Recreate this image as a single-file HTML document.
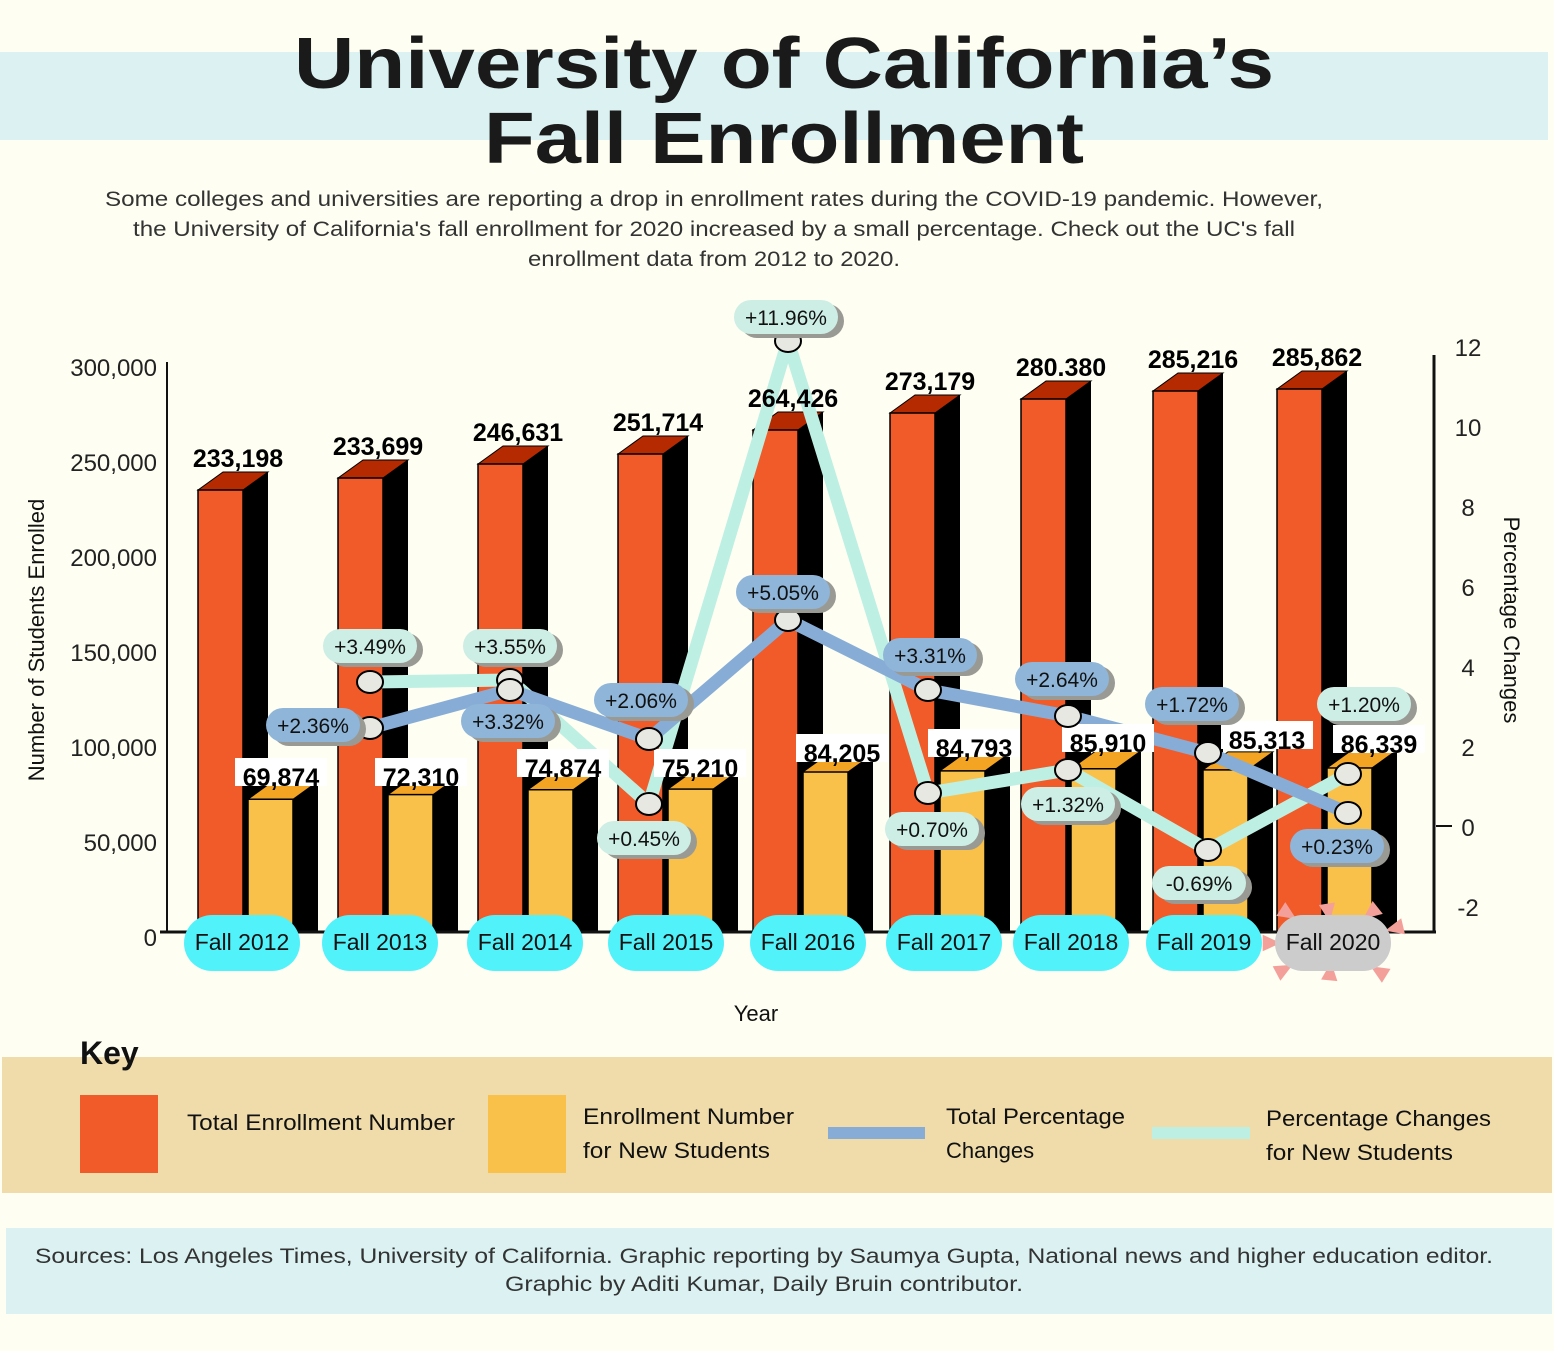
<!DOCTYPE html>
<html><head><meta charset="utf-8"><style>
html,body{margin:0;padding:0;background:#fefef2;}
svg{display:block;}
text{font-family:"Liberation Sans",sans-serif;}
</style></head><body>
<svg id="s" width="1554" height="1351" xmlns="http://www.w3.org/2000/svg">
<rect width="1554" height="1351" fill="#fefef2"/>
<rect x="0" y="52" width="1548" height="88" fill="#dcf2f2"/>
<text x="784" y="88" text-anchor="middle" font-size="72" font-weight="bold" fill="#1a1a1a" textLength="980" lengthAdjust="spacingAndGlyphs">University of California’s</text>
<text x="784" y="163" text-anchor="middle" font-size="72" font-weight="bold" fill="#1a1a1a" textLength="600" lengthAdjust="spacingAndGlyphs">Fall Enrollment</text>
<g font-size="21" fill="#333" text-anchor="middle">
<text x="714" y="206" textLength="1218" lengthAdjust="spacingAndGlyphs">Some colleges and universities are reporting a drop in enrollment rates during the COVID-19 pandemic. However,</text>
<text x="714" y="236" textLength="1162" lengthAdjust="spacingAndGlyphs">the University of California's fall enrollment for 2020 increased by a small percentage. Check out the UC's fall</text>
<text x="714" y="266" textLength="372" lengthAdjust="spacingAndGlyphs">enrollment data from 2012 to 2020.</text>
</g>
<g id="chart"></g>
<rect x="2" y="1057" width="1550" height="136" fill="#f0dcaa"/>
<text x="80" y="1064" font-size="32" font-weight="bold" fill="#111">Key</text>
<rect x="80" y="1095" width="78" height="78" fill="#f15a29"/>
<text x="187" y="1130" font-size="22" fill="#111" textLength="268" lengthAdjust="spacingAndGlyphs">Total Enrollment Number</text>
<rect x="488" y="1095" width="78" height="78" fill="#f9c04a"/>
<text x="583" y="1124" font-size="22" fill="#111" textLength="211" lengthAdjust="spacingAndGlyphs">Enrollment Number</text>
<text x="583" y="1158" font-size="22" fill="#111" textLength="187" lengthAdjust="spacingAndGlyphs">for New Students</text>
<line x1="828" y1="1133" x2="925" y2="1133" stroke="#87add6" stroke-width="12"/>
<text x="946" y="1124" font-size="22" fill="#111" textLength="179" lengthAdjust="spacingAndGlyphs">Total Percentage</text>
<text x="946" y="1158" font-size="22" fill="#111">Changes</text>
<line x1="1152" y1="1133" x2="1250" y2="1133" stroke="#bdf0e3" stroke-width="12"/>
<text x="1266" y="1126" font-size="22" fill="#111" textLength="225" lengthAdjust="spacingAndGlyphs">Percentage Changes</text>
<text x="1266" y="1160" font-size="22" fill="#111" textLength="187" lengthAdjust="spacingAndGlyphs">for New Students</text>
<rect x="6" y="1228" width="1546" height="86" fill="#dcf2f2"/>
<text x="764" y="1263" text-anchor="middle" font-size="21" fill="#333" textLength="1458" lengthAdjust="spacingAndGlyphs">Sources: Los Angeles Times, University of California. Graphic reporting by Saumya Gupta, National news and higher education editor.</text>
<text x="764" y="1291" text-anchor="middle" font-size="21" fill="#333" textLength="518" lengthAdjust="spacingAndGlyphs">Graphic by Aditi Kumar, Daily Bruin contributor.</text>
</svg>
<script>
var g=document.getElementById('chart'),h='';
function Y(v){return 932-v*0.0019;}
function P(p){return 828-p*40;}
var ox=[198,338,478,618,753,890,1021,1153,1277];
var tops=[490,478,464,454,430,413,399,391,389];
var tl=['233,198','233,699','246,631','251,714','264,426','273,179','280.380','285,216','285,862'];
var nw=[69874,72310,74874,75210,84205,84793,85910,85313,86339];
var nl=['69,874','72,310','74,874','75,210','84,205','84,793','85,910','85,313','86,339'];
function bar(x,top,c,tc){var w=45,dx=25,dy=18;
 h+='<polygon points="'+(x+w)+','+top+' '+(x+w+dx)+','+(top-dy)+' '+(x+w+dx)+',932 '+(x+w)+',932" fill="#000"/>';
 h+='<polygon points="'+x+','+top+' '+(x+dx)+','+(top-dy)+' '+(x+w+dx)+','+(top-dy)+' '+(x+w)+','+top+'" fill="'+tc+'" stroke="#000" stroke-width="1"/>';
 h+='<rect x="'+x+'" y="'+top+'" width="'+w+'" height="'+(932-top)+'" fill="'+c+'" stroke="#000" stroke-width="1.5"/>';}
h+='<g font-size="24" fill="#222" text-anchor="end">';
['0','50,000','100,000','150,000','200,000','250,000','300,000'].forEach(function(t,i){h+='<text x="157" y="'+(946-i*95)+'">'+t+'</text>';});
h+='</g><g font-size="24" fill="#222" text-anchor="middle">';
[-2,0,2,4,6,8,10,12].forEach(function(p){h+='<text x="1468" y="'+(P(p)+8)+'">'+p+'</text>';});
h+='</g>';
for(var i=0;i<9;i++){bar(ox[i],tops[i],'#f15a29','#b52a00');bar(ox[i]+50,Y(nw[i]),'#f9c04a','#f3a423');}
h+='<line x1="167" y1="362" x2="167" y2="932" stroke="#111" stroke-width="2"/>';
h+='<line x1="160" y1="932" x2="1436" y2="932" stroke="#111" stroke-width="3"/>';
h+='<line x1="1434" y1="355" x2="1434" y2="932" stroke="#111" stroke-width="3"/>';
h+='<line x1="1436" y1="826" x2="1452" y2="826" stroke="#111" stroke-width="2"/>';
var bx=[370,510,649,788,928,1068,1208,1348],by=[728,690,739,620,690,716,753,813],cy=[682,680,804,341,793,770,850,774];
function pl(ys,c){var s='';for(var i=0;i<8;i++)s+=bx[i]+','+ys[i]+' ';h+='<polyline points="'+s+'" fill="none" stroke="'+c+'" stroke-width="13" stroke-linejoin="round"/>';}
pl(cy,'#bdf0e3');pl(by,'#87add6');
for(var i=0;i<9;i++){var cx=ox[i]+40;h+='<text x="'+cx+'" y="'+(tops[i]-23)+'" text-anchor="middle" font-size="25" font-weight="bold" fill="#000">'+tl[i]+'</text>';}
var nx=[281,421,563,700,842,974,1108,1267,1379],ny=[778,778,769,769,754,749,744,741,745];
for(var i=0;i<9;i++){h+='<rect x="'+(nx[i]-46)+'" y="'+(ny[i]-20)+'" width="92" height="28" fill="#fff"/><text x="'+nx[i]+'" y="'+(ny[i]+8)+'" text-anchor="middle" font-size="25" font-weight="bold" fill="#000">'+nl[i]+'</text>';}
for(var i=0;i<8;i++){[cy[i],by[i]].forEach(function(y){h+='<ellipse cx="'+bx[i]+'" cy="'+y+'" rx="13" ry="11" fill="#e8e8e3" stroke="#000" stroke-width="2"/>';});}
var pills=[[370,647,'+3.49%',0],[510,647,'+3.55%',0],[313,726,'+2.36%',1],[508,722,'+3.32%',1],[641,701,'+2.06%',1],[644,839,'+0.45%',0],[786,318,'+11.96%',0],[783,593,'+5.05%',1],[930,656,'+3.31%',1],[932,830,'+0.70%',0],[1062,680,'+2.64%',1],[1068,805,'+1.32%',0],[1192,705,'+1.72%',1],[1199,884,'-0.69%',0],[1364,705,'+1.20%',0],[1337,847,'+0.23%',1]];
pills.forEach(function(p){var w=p[2].length>6?104:94;
 h+='<rect x="'+(p[0]-w/2+6)+'" y="'+(p[1]-14)+'" width="'+w+'" height="34" rx="17" fill="#9a9a94"/>';
 h+='<rect x="'+(p[0]-w/2)+'" y="'+(p[1]-18)+'" width="'+w+'" height="34" rx="17" fill="'+(p[3]?'#8fb5d8':'#cdeee5')+'"/>';
 h+='<text x="'+p[0]+'" y="'+(p[1]+7)+'" text-anchor="middle" font-size="21" fill="#111">'+p[2]+'</text>';});
var yx=[242,380,525,666,808,944,1071,1204,1333];
var tr=[[1287,913],[1328,911],[1372,912],[1396,928],[1270,943],[1283,970],[1330,973],[1380,972]];
tr.forEach(function(t){var a=Math.atan2(943-t[1],1333-t[0]),r=11;
 var p=[];[0,2.3,-2.3].forEach(function(d){p.push((t[0]+r*Math.cos(a+d)).toFixed(1)+','+(t[1]+r*Math.sin(a+d)).toFixed(1));});
 h+='<polygon points="'+p.join(' ')+'" fill="#f4a09a"/>';});
for(var i=0;i<9;i++){var c=i==8?'#cccccc':'#52f2fa';h+='<rect x="'+(yx[i]-58)+'" y="915" width="116" height="56" rx="28" fill="'+c+'"/><text x="'+yx[i]+'" y="950" text-anchor="middle" font-size="23" fill="#111">Fall '+(2012+i)+'</text>';}
h+='<text x="756" y="1021" text-anchor="middle" font-size="22" fill="#111">Year</text>';
h+='<text transform="translate(44,640) rotate(-90)" text-anchor="middle" font-size="22" fill="#111">Number of Students Enrolled</text>';
h+='<text transform="translate(1504,620) rotate(90)" text-anchor="middle" font-size="22" fill="#111">Percentage Changes</text>';
g.innerHTML=h;
</script>
</body></html>
